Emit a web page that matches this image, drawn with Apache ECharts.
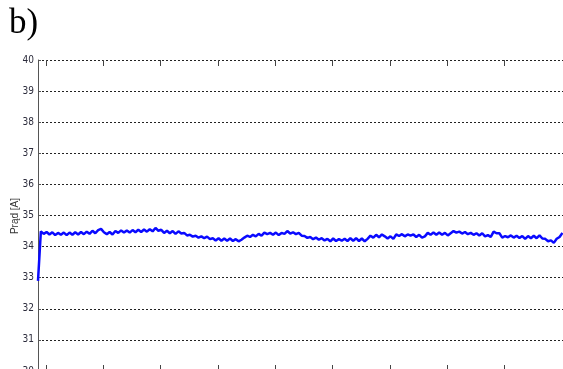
<!DOCTYPE html>
<html>
<head>
<meta charset="utf-8">
<script src="https://cdn.jsdelivr.net/npm/echarts@6/dist/echarts.min.js"></script>
<style>html,body{margin:0;padding:0;background:#fff}#c{width:563px;height:369px}</style>
</head>
<body>
<div id="c"></div>
<script>
var panelLabel = 'b)';
var yAxisName = 'Prąd [A]';
var yMin = 30, yMax = 40, yStep = 1;
var xMin = -0.14, xMax = 9.02;
var xTickValues = [0, 1, 2, 3, 4, 5, 6, 7, 8];
var sampleStart = -0.14, sampleStep = 0.05;
var current = [
  32.9,
  34.49, 34.41, 34.47, 34.39, 34.46, 34.37, 34.44, 34.38, 34.45, 34.37,
  34.45, 34.38, 34.46, 34.39, 34.47, 34.40, 34.48, 34.41, 34.51, 34.43,
  34.53, 34.57, 34.46, 34.40, 34.47, 34.39, 34.50, 34.44, 34.52, 34.45,
  34.52, 34.45, 34.53, 34.46, 34.54, 34.47, 34.55, 34.48, 34.56, 34.49,
  34.60, 34.51, 34.54, 34.44, 34.51, 34.43, 34.50, 34.41, 34.49, 34.42,
  34.44, 34.36, 34.38, 34.32, 34.35, 34.29, 34.33, 34.27, 34.32, 34.24,
  34.27, 34.20, 34.27, 34.19, 34.26, 34.19, 34.26, 34.18, 34.24, 34.17,
  34.22, 34.29, 34.35, 34.31, 34.38, 34.33, 34.41, 34.35, 34.45, 34.40,
  34.44, 34.38, 34.45, 34.37, 34.44, 34.41, 34.50, 34.42, 34.46, 34.40,
  34.44, 34.35, 34.34, 34.28, 34.31, 34.24, 34.29, 34.22, 34.27, 34.20,
  34.25, 34.17, 34.26, 34.18, 34.24, 34.19, 34.25, 34.18, 34.27, 34.19,
  34.27, 34.18, 34.26, 34.17, 34.25, 34.35, 34.29, 34.38, 34.30, 34.39,
  34.33, 34.26, 34.33, 34.25, 34.39, 34.34, 34.40, 34.33, 34.39, 34.35,
  34.39, 34.31, 34.38, 34.29, 34.33, 34.44, 34.38, 34.45, 34.38, 34.45,
  34.38, 34.44, 34.36, 34.43, 34.50, 34.45, 34.48, 34.42, 34.47, 34.40,
  34.44, 34.38, 34.43, 34.36, 34.43, 34.33, 34.37, 34.31, 34.48, 34.43,
  34.43, 34.29, 34.34, 34.30, 34.36, 34.29, 34.35, 34.28, 34.34, 34.25,
  34.34, 34.27, 34.35, 34.27, 34.36, 34.26, 34.25, 34.17, 34.20, 34.12,
  34.25, 34.31, 34.44
];

var seriesData = current.map(function (v, i) { return [sampleStart + i * sampleStep, v]; });
var lblFont = '"Liberation Sans Narrow", "DejaVu Sans Condensed", Arial, sans-serif';

var chart = echarts.init(document.getElementById('c'), null, {renderer: 'canvas'});
chart.setOption({
  animation: false,
  backgroundColor: '#ffffff',
  graphic: [{
    type: 'text', left: 9, top: 6,
    style: {text: panelLabel, font: '35px "Liberation Serif", "Times New Roman", serif', fill: '#000'}
  }, {
    type: 'text', x: 15, y: 216, rotation: Math.PI / 2,
    style: {text: yAxisName, font: '10px Arial, "Liberation Sans", sans-serif', fill: '#333',
            align: 'center', verticalAlign: 'middle'}
  }],
  grid: {left: 38, right: 0, top: 60, bottom: -2, containLabel: false, outerBoundsMode: 'none'},
  xAxis: [{
    type: 'value', min: xMin, max: xMax, position: 'bottom',
    axisLine: {show: true, onZero: false, lineStyle: {color: '#444'}},
    axisTick: {show: true, inside: true, length: 6, customValues: xTickValues, lineStyle: {color: '#444'}},
    axisLabel: {show: false},
    splitLine: {show: false}
  }, {
    type: 'value', min: xMin, max: xMax, position: 'top',
    axisLine: {show: false, onZero: false},
    axisTick: {show: true, inside: true, length: 6, customValues: xTickValues, lineStyle: {color: '#444'}},
    axisLabel: {show: false},
    splitLine: {show: false}
  }],
  yAxis: {
    type: 'value', min: yMin, max: yMax, interval: yStep,
    axisLine: {show: true, onZero: false, lineStyle: {color: '#555', width: 1}},
    axisTick: {show: true, inside: true, length: 3, lineStyle: {color: '#555'}},
    axisLabel: {fontSize: 10, color: '#2b2b3b', margin: 4, fontFamily: lblFont},
    splitLine: {show: true, lineStyle: {color: '#222', type: [2, 2], width: 1}}
  },
  series: [{
    type: 'line', data: seriesData, showSymbol: false, symbol: 'none',
    lineStyle: {color: '#0a0aff', width: 2.5},
    z: 3
  }]
});
</script>
</body>
</html>
